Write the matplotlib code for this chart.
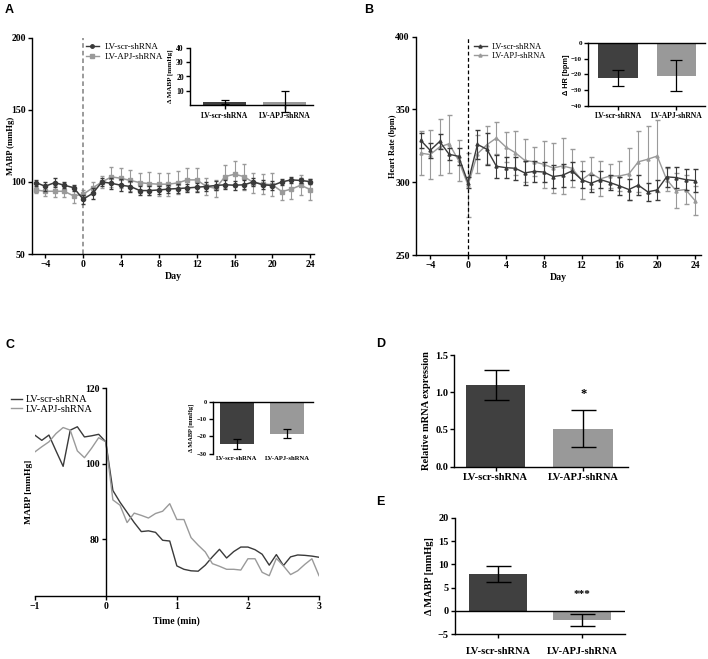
import matplotlib
matplotlib.use('Agg')
import matplotlib.pyplot as plt
from matplotlib.lines import Line2D

plt.rcParams['font.family'] = ['Liberation Serif', 'DejaVu Serif']
plt.rcParams['font.weight'] = 'bold'
plt.rcParams['axes.linewidth'] = 1.0

DARK = '#3a3a3a'
LIGHT = '#9a9a9a'
BAR_DARK = '#404040'
BAR_LIGHT = '#999999'

groups = ['LV-scr-shRNA', 'LV-APJ-shRNA']

# Panel A - MABP by day
days = [-5, -4, -3, -2, -1, 0, 1, 2, 3, 4, 5, 6, 7, 8, 9, 10, 11, 12, 13, 14,
        15, 16, 17, 18, 19, 20, 21, 22, 23, 24]
a_scr = [99.5, 97, 99.5, 97.7, 96, 88, 92, 100, 99, 97.7, 96.8, 94, 94, 94.4, 95,
         95.4, 95.8, 96.3, 96.8, 97.5, 98, 97.7, 98, 100, 98, 97.5, 100, 101.4, 101, 100.2]
a_apj = [94.4, 93.5, 93.5, 93.5, 90.3, 91.4, 95.8, 100, 103.5, 102.5, 101, 99.5, 98.8,
         98.4, 98.4, 99.3, 101.4, 101.4, 97, 95.5, 103.7, 105.3, 103.7, 99.5, 98.6, 98,
         93.3, 95, 97.7, 94.7]
a_scr_err = [2, 3, 3, 2, 2, 3, 4, 3, 4, 4, 4, 3, 3, 3, 3, 3, 3, 3, 3, 3, 3, 3, 3, 3, 3,
             3, 2, 2, 2, 2]
a_apj_err = [2, 3, 4, 4, 5, 3, 4, 4, 7, 7, 7, 7, 8, 8, 8, 8, 8, 8, 6, 6, 8, 9, 9, 7, 7,
             8, 6, 7, 7, 7]
a_inset_mean = [2.5, 2.5]
a_inset_err = [1.4, 7.4]

# Panel B - heart rate by day
b_scr = [328.8, 321.9, 328, 319.2, 317.8, 299.8, 326, 322.6, 311, 310, 309.6, 306.4,
         307.5, 307, 303.9, 304.8, 307.8, 301.8, 299.3, 301.8, 299.8, 297.5, 295, 298,
         293.4, 294.7, 303.7, 303.2, 301.8, 301.1]
b_apj = [320, 319, 324.2, 326.5, 315, 298, 319.6, 325.8, 330.4, 324.2, 320.3, 315, 314,
         312.3, 309.8, 311.2, 309.6, 301.6, 306.2, 302.3, 304.3, 304.3, 305.7, 314,
         315.8, 318, 301.8, 294.2, 295, 287.4]
b_scr_err = [5, 5, 5, 4, 6, 4, 10, 11, 8, 7, 8, 8, 7, 7, 8, 8, 6, 6, 6, 6, 5, 6, 7, 7,
             6, 7, 7, 7, 7, 8]
b_apj_err = [15, 17, 19, 20, 14, 22, 13, 13, 11, 10, 15, 15, 10, 16, 17, 19, 13, 13, 11,
             12, 8, 10, 18, 21, 23, 25, 8, 12, 10, 10]
b_inset_mean = [-22.3, -21]
b_inset_err = [5.3, 9.8]

# Panel C - MABP over time (min)
c_time = [-1.0, -0.9, -0.8, -0.7, -0.6, -0.5, -0.4, -0.3, -0.2, -0.1, 0.0,
          0.1, 0.2, 0.3, 0.4, 0.5, 0.6, 0.7, 0.8, 0.9, 1.0,
          1.1, 1.2, 1.3, 1.4, 1.5, 1.6, 1.7, 1.8, 1.9, 2.0,
          2.1, 2.2, 2.3, 2.4, 2.5, 2.6, 2.7, 2.8, 2.9, 3.0]
c_scr = [107.6, 106.2, 107.6, 103.4, 99.3, 108.9, 109.8, 107.1, 107.4, 107.8, 105.8,
         92.9, 89.8, 87.1, 84.4, 82, 82.2, 81.8, 79.7, 79.5, 72.9,
         72, 71.6, 71.5, 73.1, 75.3, 77.3, 75, 76.7, 77.9, 77.9,
         77.2, 76, 73.1, 75.9, 73, 75.3, 75.8, 75.7, 75.5, 75.2]
c_apj = [103.1, 104.5, 105.8, 108, 109.6, 108.9, 103.4, 101.6, 104.1, 106.9, 105.8,
         90.4, 89, 84.4, 86.9, 86.3, 85.6, 86.8, 87.4, 89.4, 85.2,
         85.2, 80.4, 78.4, 76.6, 73.5, 72.8, 72, 72, 71.8, 74.8,
         74.8, 71.2, 70.3, 74.9, 72.9, 70.6, 71.6, 73.3, 74.8, 70.3]
c_inset_mean = [-24.3, -18.6]
c_inset_err = [3.0, 2.6]

# Panel D - relative mRNA expression
d_mean = [1.1, 0.51]
d_err = [0.205, 0.25]

# Panel E - delta MABP
e_mean = [7.9, -1.95]
e_err = [1.7, 1.25]


W, H = 708, 659


def box(l, t, r, b):
    return [l / W, 1 - b / H, (r - l) / W, (b - t) / H]


def style(ax, size):
    ax.spines['top'].set_visible(False)
    ax.spines['right'].set_visible(False)
    ax.tick_params(direction='out', length=3, width=1, labelsize=size, pad=1.5)
    for lab in ax.get_xticklabels() + ax.get_yticklabels():
        lab.set_fontweight('bold')


def inset_bars(ax, means, errs, width, size):
    x = [0, 1]
    ax.bar(x, means, width=width, color=[BAR_DARK, BAR_LIGHT], edgecolor='none', zorder=2)
    ax.errorbar(x, means, yerr=errs, fmt='none', ecolor='black', elinewidth=0.9,
                capsize=size, capthick=0.9, clip_on=False, zorder=3)
    ax.set_xticks(x)
    ax.set_xticklabels(groups)


fig = plt.figure(figsize=(W / 100, H / 100), dpi=100)

# ---------------- A ----------------
ax = fig.add_axes(box(32, 37.7, 314, 254))
ax.errorbar(days, a_scr, yerr=a_scr_err, color=DARK, lw=1.1, capsize=1.5, elinewidth=0.8,
            marker='o', ms=3, zorder=3)
ax.errorbar(days, a_apj, yerr=a_apj_err, color=LIGHT, lw=1.1, capsize=1.5, elinewidth=0.8,
            marker='s', ms=3, zorder=2)
ax.axvline(0, color='#808080', ls=(0, (3, 2)), lw=1.1)
ax.set_xlim(-5.4, 24.4)
ax.set_ylim(50, 200)
ax.set_xticks([-4, 0, 4, 8, 12, 16, 20, 24])
ax.set_yticks([50, 100, 150, 200])
ax.set_xlabel('Day', fontsize=7, fontweight='bold', labelpad=2)
ax.set_ylabel('MABP (mmHg)', fontsize=6.2, fontweight='bold')
ax.yaxis.set_label_coords(-0.062, 0.5)
style(ax, 7)
hA = [Line2D([], [], color=DARK, marker='o', ms=2.5, lw=1),
      Line2D([], [], color=LIGHT, marker='s', ms=2.5, lw=1)]
ax.legend(hA, groups, loc='upper left', bbox_to_anchor=(86 / W, 1 - 43 / H),
          bbox_transform=fig.transFigure, frameon=False,
          prop={'weight': 'normal', 'size': 6.5}, handlelength=1.4, handletextpad=0.7,
          labelspacing=0.15, borderpad=0, borderaxespad=0)

axi = fig.add_axes(box(190, 47.7, 313, 105.3))
inset_bars(axi, a_inset_mean, a_inset_err, 0.72, 3)
axi.set_xlim(-0.58, 1.47)
axi.set_ylim(0, 40)
axi.set_yticks([10, 20, 30, 40])
axi.set_ylabel('Δ MABP [mmHg]', fontsize=5, fontweight='bold', labelpad=2)
style(axi, 5.5)
axi.tick_params(axis='x', labelsize=5.5)

# ---------------- B ----------------
ax = fig.add_axes(box(416, 36.7, 700.7, 255))
ax.errorbar(days, b_scr, yerr=b_scr_err, color=DARK, lw=1, capsize=1.8, elinewidth=0.8,
            marker='^', ms=2.2, zorder=3)
ax.errorbar(days, b_apj, yerr=b_apj_err, color=LIGHT, lw=1, capsize=1.8, elinewidth=0.8,
            marker='^', ms=2.2, zorder=2)
ax.axvline(0, color='black', ls=(0, (3, 2)), lw=0.9)
ax.set_xlim(-5.5, 24.6)
ax.set_ylim(250, 400)
ax.set_xticks([-4, 0, 4, 8, 12, 16, 20, 24])
ax.set_yticks([250, 300, 350, 400])
ax.set_xlabel('Day', fontsize=7, fontweight='bold', labelpad=2)
ax.set_ylabel('Heart Rate (bpm)', fontsize=6, fontweight='bold')
ax.yaxis.set_label_coords(-0.066, 0.5)
style(ax, 7)
hB = [Line2D([], [], color=DARK, marker='^', ms=2.2, lw=1),
      Line2D([], [], color=LIGHT, marker='^', ms=2.2, lw=1)]
ax.legend(hB, groups, loc='upper left', bbox_to_anchor=(474 / W, 1 - 43 / H),
          bbox_transform=fig.transFigure, frameon=False,
          prop={'weight': 'normal', 'size': 6}, handlelength=1.5, handletextpad=0.6,
          labelspacing=0.15, borderpad=0, borderaxespad=0)

axi = fig.add_axes(box(588.3, 42.7, 705, 106))
inset_bars(axi, b_inset_mean, b_inset_err, 0.68, 4)
axi.set_xlim(-0.51, 1.49)
axi.set_ylim(-40, 0)
axi.set_yticks([0, -10, -20, -30, -40])
axi.set_ylabel('Δ HR [bpm]', fontsize=5.3, fontweight='bold', family='Liberation Sans',
               labelpad=1)
style(axi, 5)
axi.spines['top'].set_visible(True)
axi.tick_params(axis='x', labelsize=5.5)

# ---------------- C ----------------
ax = fig.add_axes(box(34.7, 388.3, 319, 595.7))
ax.plot(c_time, c_scr, color=DARK, lw=1, label=groups[0])
ax.plot(c_time, c_apj, color=LIGHT, lw=1, label=groups[1])
ax.set_xlim(-1, 3)
ax.set_ylim(65, 120)
ax.set_xticks([-1, 0, 1, 2, 3])
ax.set_yticks([80, 100, 120])
ax.spines['left'].set_position(('data', 0))
ax.set_xlabel('Time (min)', fontsize=7, fontweight='bold', labelpad=4)
ax.set_ylabel('MABP [mmHg]', fontsize=6.8, fontweight='bold')
ax.yaxis.set_label_coords(-0.005, 0.5)
style(ax, 7)
ax.legend(loc='upper left', bbox_to_anchor=(11 / W, 1 - 395 / H),
          bbox_transform=fig.transFigure, frameon=False,
          prop={'weight': 'normal', 'size': 7.5}, handlelength=1.1, handletextpad=0.3,
          labelspacing=0.0, borderpad=0, borderaxespad=0)

axi = fig.add_axes(box(213, 401.7, 313, 453.7))
inset_bars(axi, c_inset_mean, c_inset_err, 0.68, 3)
axi.set_xlim(-0.48, 1.52)
axi.set_ylim(-30, 0)
axi.set_yticks([0, -10, -20, -30])
axi.set_ylabel('Δ MABP [mmHg]', fontsize=4.6, fontweight='bold', labelpad=2)
style(axi, 4.6)
axi.spines['top'].set_visible(True)
axi.spines['bottom'].set_visible(False)
axi.tick_params(axis='x', length=0, labelsize=4.8)

# ---------------- D ----------------
ax = fig.add_axes(box(454.3, 355, 628, 466.7))
ax.bar([0, 1], d_mean, width=0.68, color=[BAR_DARK, BAR_LIGHT], edgecolor='none')
ax.errorbar([0, 1], d_mean, yerr=d_err, fmt='none', ecolor='black', elinewidth=1,
            capsize=9, capthick=1)
ax.text(1, 0.9, '*', ha='center', va='bottom', fontsize=9)
ax.set_xlim(-0.47, 1.51)
ax.set_ylim(0, 1.5)
ax.set_xticks([0, 1])
ax.set_xticklabels(groups)
ax.set_yticks([0, 0.5, 1.0, 1.5])
ax.set_yticklabels(['0.0', '0.5', '1.0', '1.5'])
ax.set_ylabel('Relative mRNA expression', fontsize=7.5, fontweight='bold', labelpad=3)
style(ax, 7.5)

# ---------------- E ----------------
ax = fig.add_axes(box(455, 517.7, 625, 634.3))
ax.bar([0, 1], e_mean, width=0.68, color=[BAR_DARK, BAR_LIGHT], edgecolor='none')
ax.errorbar([0, 1], e_mean, yerr=e_err, fmt='none', ecolor='black', elinewidth=1,
            capsize=9, capthick=1)
ax.axhline(0, color='black', lw=1)
ax.text(1, 2.6, '***', ha='center', va='bottom', fontsize=8)
ax.set_xlim(-0.51, 1.51)
ax.set_ylim(-5, 20)
ax.set_xticks([0, 1])
ax.set_xticklabels(groups)
ax.set_yticks([-5, 0, 5, 10, 15, 20])
ax.set_ylabel('Δ MABP [mmHg]', fontsize=7.5, fontweight='bold', labelpad=3)
style(ax, 7.5)
ax.tick_params(axis='x', pad=6)

# panel letters
for letter, (x, y) in {'A': (5, 13), 'B': (364, 13), 'C': (5, 348), 'D': (376, 347),
                       'E': (376, 505)}.items():
    fig.text(x / W, 1 - y / H, letter, fontsize=9, fontweight='bold',
             family='Liberation Sans', ha='left', va='baseline')

fig.savefig('out.png', dpi=100)
